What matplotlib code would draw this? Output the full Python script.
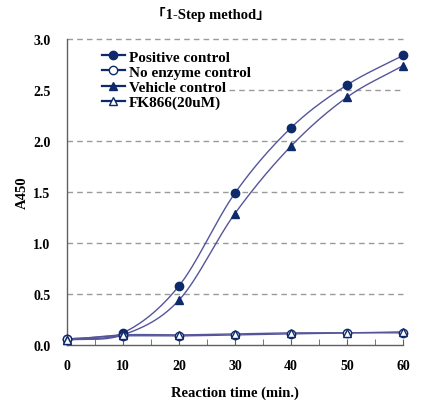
import numpy as np
import matplotlib
matplotlib.use("Agg")
import matplotlib.pyplot as plt
from matplotlib.ticker import MultipleLocator

times = [0, 10, 20, 30, 40, 50, 60]
positive = [0.06, 0.12, 0.58, 1.49, 2.13, 2.55, 2.84]
no_enzyme = [0.06, 0.09, 0.09, 0.10, 0.11, 0.12, 0.12]
vehicle = [0.05, 0.10, 0.44, 1.29, 1.95, 2.43, 2.74]
fk866 = [0.05, 0.10, 0.10, 0.11, 0.12, 0.12, 0.13]
labels = ["Positive control", "No enzyme control", "Vehicle control", "FK866(20uM)"]
yticks = [0.0, 0.5, 1.0, 1.5, 2.0, 2.5, 3.0]
xticks = [0, 10, 20, 30, 40, 50, 60]


def smooth(x, y, n=30):
    # Catmull-Rom style smoothing (like Excel smoothed lines)
    x = np.asarray(x, float); y = np.asarray(y, float)
    px = np.concatenate([[2*x[0]-x[1]], x, [2*x[-1]-x[-2]]])
    py = np.concatenate([[2*y[0]-y[1]], y, [2*y[-1]-y[-2]]])
    xs, ys = [], []
    t = np.linspace(0, 1, n)
    for i in range(1, len(px) - 2):
        for arr, out in ((px, xs), (py, ys)):
            p0, p1, p2, p3 = arr[i-1], arr[i], arr[i+1], arr[i+2]
            out.extend(0.5*((2*p1) + (-p0+p2)*t + (2*p0-5*p1+4*p2-p3)*t**2 + (-p0+3*p1-3*p2+p3)*t**3))
    return np.array(xs), np.array(ys)


serif = ["Liberation Serif", "DejaVu Serif"]
plt.rcParams['font.family'] = serif
plt.rcParams['font.weight'] = 'bold'

fig = plt.figure(figsize=(4.21, 4.14), dpi=100)
ax = fig.add_axes([0.159, 0.164, 0.798, 0.739])

line_c = "#55559a"
mk_c = "#0f2a6b"
series = [(positive, 'o', True), (no_enzyme, 'o', False), (vehicle, '^', True), (fk866, '^', False)]
handles = []
for (vals, m, filled), lab in zip(series, labels):
    sx, sy = smooth(times, vals)
    ax.plot(sx, sy, color=line_c, lw=1.0, zorder=3)
    ax.plot(times, vals, linestyle='none', marker=m, ms=6,
            mfc=mk_c if filled else 'white', mec=mk_c, mew=1.0, zorder=4)
    h, = ax.plot([], [], color=mk_c, lw=1.6, marker=m, ms=6,
                 mfc=mk_c if filled else 'white', mec=mk_c, mew=1.0)
    handles.append(h)

# gridlines
for yv in yticks[1:]:
    if yv == 2.5:
        ax.plot([29, 60], [yv, yv], color='#9a9a9a', lw=1.0, ls=(0, (4, 3)), zorder=1)
    else:
        ax.axhline(yv, color='#9a9a9a', lw=1.0, ls=(0, (4, 3)), zorder=1)

ax.set_xlim(0, 60)
ax.set_ylim(0, 3.0)
ax.set_xticks(xticks)
ax.set_yticks(yticks)
ax.set_yticklabels([f"{v:.1f}" for v in yticks])
ax.xaxis.set_minor_locator(MultipleLocator(5))
ax.tick_params(axis='x', which='both', direction='in', length=4, color='#606060', pad=10, labelsize=10)
ax.tick_params(axis='y', length=0, pad=12, labelsize=10)
for s in ['top', 'right']:
    ax.spines[s].set_visible(False)
for s in ['left', 'bottom']:
    ax.spines[s].set_color('#606060')
    ax.spines[s].set_linewidth(1.0)
for ln in ax.lines:
    ln.set_clip_on(False)

ax.set_xlabel("Reaction time (min.)", fontsize=10.5, fontweight='bold', labelpad=10)
ax.set_ylabel("A450", fontsize=10.5, fontweight='bold', labelpad=3)
fig.text(0.5, 0.965, "「1-Step method」", ha='center', va='center', fontsize=10.5,
         fontweight='bold', family=serif + ["Noto Sans CJK JP"])

leg = ax.legend(handles, labels, loc='upper left', bbox_to_anchor=(0.085, 0.985), frameon=False,
                fontsize=11, handlelength=1.5, handletextpad=0.3, labelspacing=0.1,
                borderaxespad=0)
for t in leg.get_texts():
    t.set_fontweight('bold')

fig.savefig("out.png", dpi=100)
